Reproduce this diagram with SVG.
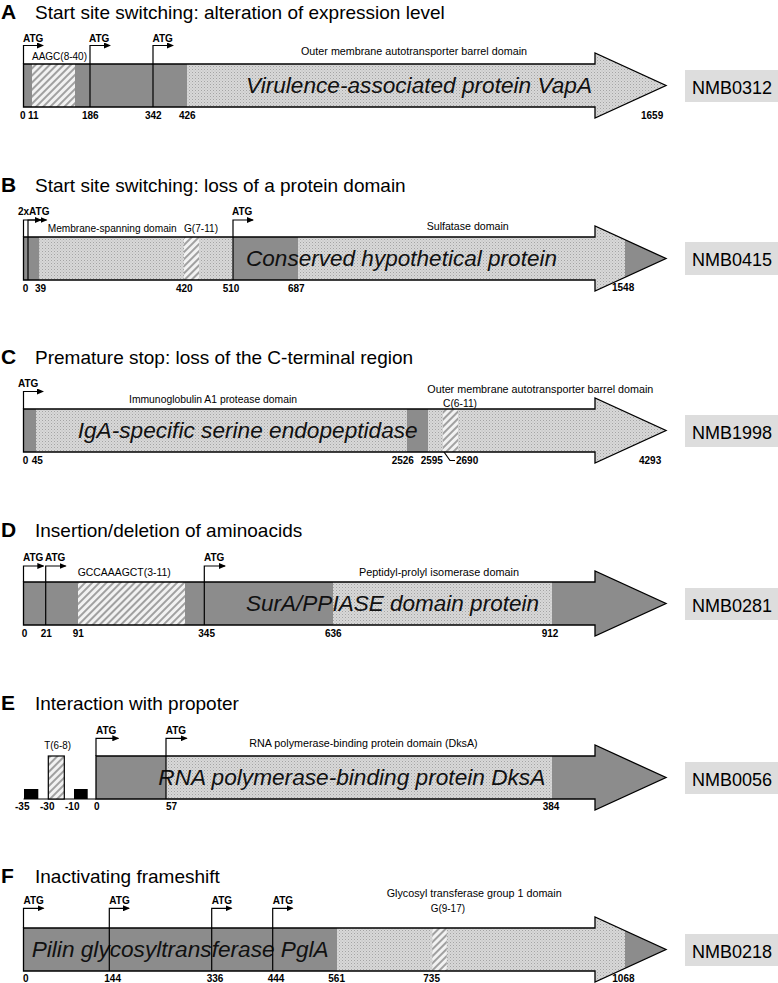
<svg xmlns="http://www.w3.org/2000/svg" width="778" height="983" viewBox="0 0 778 983">
<style>
.ttl{font-family:"Liberation Sans",Arial,sans-serif;font-size:19px;fill:#000}
.let{font-family:"Liberation Sans",Arial,sans-serif;font-size:21px;font-weight:bold;fill:#000}
.lab{font-family:"Liberation Sans",Arial,sans-serif;font-size:10.5px;fill:#000}
.atg{font-family:"Liberation Sans",Arial,sans-serif;font-size:10px;font-weight:bold;fill:#000}
.num{font-family:"Liberation Sans",Arial,sans-serif;font-size:10px;font-weight:bold;fill:#000}
.big{font-family:"Liberation Sans",Arial,sans-serif;font-size:22px;font-style:italic;fill:#111}
.nmb{font-family:"Liberation Sans",Arial,sans-serif;font-size:18px;fill:#000}
.box{fill:#dddddd}
.dk{fill:#8c8c8c}
.st{fill:url(#stip)}
.ht{fill:url(#hatch)}
.outline{fill:none;stroke:#000;stroke-width:1.3}
.vl{stroke:#000;stroke-width:1.2;fill:none}
.arr{stroke:#000;stroke-width:1.2;fill:none;marker-end:url(#ah)}
</style>
<defs>
<pattern id="stip" width="3" height="3" patternUnits="userSpaceOnUse"><rect width="3" height="3" fill="#d8d8d8"/><rect width="1" height="1" fill="#a4a4a4"/><rect x="1.5" y="1.5" width="1" height="1" fill="#b8b8b8"/></pattern>
<pattern id="hatch" width="5" height="5" patternUnits="userSpaceOnUse" patternTransform="rotate(45)"><rect width="5" height="5" fill="#f2f2f2"/><line x1="1" y1="0" x2="1" y2="5" stroke="#8c8c8c" stroke-width="1.6"/></pattern>
<clipPath id="cA"><path d="M23.5,64 H595 V53 L666,85.5 L595,118 V107 H23.5 Z"/></clipPath>
<clipPath id="cE"><path d="M96,64 H595 V53 L666,85.5 L595,118 V107 H96 Z"/></clipPath>
<marker id="ah" markerWidth="7" markerHeight="6" refX="6" refY="3" orient="auto" markerUnits="userSpaceOnUse"><path d="M0,0 L7,3 L0,6 Z" fill="#000"/></marker>
</defs>

<!-- Panel A -->
<g id="panelA">
<text class="let" x="1" y="18.5">A</text>
<text class="ttl" x="35" y="18.5">Start site switching: alteration of expression level</text>
<g id="geneA">
<g clip-path="url(#cA)">
<rect class="dk" x="23.5" y="50" width="164" height="70"/>
<rect class="ht" x="32" y="64" width="43" height="43"/>
<rect class="st" x="187" y="50" width="480" height="70"/>
</g>
<path class="outline" d="M23.5,64 H595 V53 L666,85.5 L595,118 V107 H23.5 Z"/>
<text class="big" x="246" y="93" textLength="346" lengthAdjust="spacingAndGlyphs">Virulence-associated protein VapA</text>
</g>
<g id="labelsA">
<text class="atg" x="23" y="42">ATG</text>
<text class="atg" x="89" y="42">ATG</text>
<text class="atg" x="152.5" y="42">ATG</text>
<text class="lab" x="32" y="60" textLength="55" lengthAdjust="spacingAndGlyphs">AAGC(8-40)</text>
<text class="lab" x="301" y="55" textLength="226" lengthAdjust="spacingAndGlyphs">Outer membrane autotransporter barrel domain</text>
<text class="num" x="20" y="118.5">0</text>
<text class="num" x="28" y="118.5">11</text>
<text class="num" x="82" y="118.5">186</text>
<text class="num" x="145" y="118.5">342</text>
<text class="num" x="179" y="118.5">426</text>
<text class="num" x="641" y="118.5">1659</text>
</g>
<g id="idA"><rect class="box" x="685" y="70" width="93" height="32"/><text class="nmb" x="692" y="93.5">NMB0312</text></g>
</g>

<!-- Panel B -->
<g id="panelB" transform="translate(0,173)">
<text class="let" x="1" y="18.5">B</text>
<text class="ttl" x="35" y="18.5">Start site switching: loss of a protein domain</text>
<g id="geneB">
<g clip-path="url(#cA)">
<rect class="dk" x="23.5" y="50" width="16" height="70"/>
<rect class="st" x="39.5" y="50" width="145" height="70"/>
<rect class="ht" x="184" y="64" width="15" height="43"/>
<rect class="st" x="199" y="50" width="34" height="70"/>
<rect class="dk" x="233" y="50" width="65" height="70"/>
<rect class="st" x="298" y="50" width="327" height="70"/>
<rect class="dk" x="625" y="50" width="45" height="70"/>
</g>
<path class="outline" d="M23.5,64 H595 V53 L666,85.5 L595,118 V107 H23.5 Z"/>
<text class="big" x="246" y="93" textLength="311" lengthAdjust="spacingAndGlyphs">Conserved hypothetical protein</text>
</g>
<g id="labelsB">
<text class="atg" x="18" y="42">2xATG</text>
<text class="atg" x="232" y="42">ATG</text>
<text class="lab" x="47.7" y="58.7" textLength="129" lengthAdjust="spacingAndGlyphs">Membrane-spanning domain</text>
<text class="lab" x="184" y="58.7" textLength="34" lengthAdjust="spacingAndGlyphs">G(7-11)</text>
<text class="lab" x="426.7" y="57" textLength="82" lengthAdjust="spacingAndGlyphs">Sulfatase domain</text>
<text class="num" x="22.7" y="118.5">0</text>
<text class="num" x="35" y="118.5">39</text>
<text class="num" x="176" y="118.5">420</text>
<text class="num" x="222.7" y="118.5">510</text>
<text class="num" x="288" y="118.5">687</text>
<text class="num" x="612" y="118">1548</text>
</g>
<g id="idB"><rect class="box" x="685" y="69" width="93" height="33"/><text class="nmb" x="692" y="93">NMB0415</text></g>
</g>

<!-- Panel C -->
<g id="panelC" transform="translate(0,345)">
<text class="let" x="1" y="19">C</text>
<text class="ttl" x="35" y="19">Premature stop: loss of the C-terminal region</text>
<g id="geneC">
<g clip-path="url(#cA)">
<rect class="dk" x="23.5" y="50" width="12.5" height="70"/>
<rect class="st" x="36" y="50" width="371" height="70"/>
<rect class="dk" x="407" y="50" width="21.3" height="70"/>
<rect class="st" x="428.3" y="50" width="240" height="70"/>
<rect class="ht" x="443" y="64" width="15" height="43"/>
</g>
<path class="outline" d="M23.5,64 H595 V53 L666,85.5 L595,118 V107 H23.5 Z"/>
<text class="big" x="77.7" y="93.3" textLength="340" lengthAdjust="spacingAndGlyphs">IgA-specific serine endopeptidase</text>
</g>
<g id="labelsC">
<text class="atg" x="18" y="42">ATG</text>
<text class="lab" x="129" y="58.3" textLength="168" lengthAdjust="spacingAndGlyphs">Immunoglobulin A1 protease domain</text>
<text class="lab" x="427.3" y="48.3" textLength="226" lengthAdjust="spacingAndGlyphs">Outer membrane autotransporter barrel domain</text>
<text class="lab" x="443" y="61.7" textLength="34" lengthAdjust="spacingAndGlyphs">C(6-11)</text>
<text class="num" x="22.7" y="119">0</text>
<text class="num" x="31.7" y="119">45</text>
<text class="num" x="391.7" y="119">2526</text>
<text class="num" x="420.7" y="119">2595</text>
<text class="num" x="456" y="119">2690</text>
<text class="num" x="639" y="119">4293</text>
</g>
<g id="idC"><rect class="box" x="685" y="70" width="93" height="32"/><text class="nmb" x="692" y="93.5">NMB1998</text></g>
</g>

<!-- Panel D -->
<g id="panelD" transform="translate(0,518)">
<text class="let" x="1" y="19">D</text>
<text class="ttl" x="35" y="19">Insertion/deletion of aminoacids</text>
<g id="geneD">
<g clip-path="url(#cA)">
<rect class="dk" x="23.5" y="50" width="310" height="70"/>
<rect class="ht" x="78" y="64" width="107" height="43"/>
<rect class="st" x="333" y="50" width="219" height="70"/>
<rect class="dk" x="552" y="50" width="118" height="70"/>
</g>
<path class="outline" d="M23.5,64 H595 V53 L666,85.5 L595,118 V107 H23.5 Z"/>
<text class="big" x="246" y="93" textLength="293" lengthAdjust="spacingAndGlyphs">SurA/PPIASE domain protein</text>
</g>
<g id="labelsD">
<text class="atg" x="23" y="42.7">ATG</text>
<text class="atg" x="45" y="42.7">ATG</text>
<text class="atg" x="204" y="42.7">ATG</text>
<text class="lab" x="77.7" y="58" textLength="93" lengthAdjust="spacingAndGlyphs">GCCAAAGCT(3-11)</text>
<text class="lab" x="359" y="57.5" textLength="160" lengthAdjust="spacingAndGlyphs">Peptidyl-prolyl isomerase domain</text>
<text class="num" x="21.7" y="119.3">0</text>
<text class="num" x="40.7" y="119.3">21</text>
<text class="num" x="72.7" y="119.3">91</text>
<text class="num" x="198.3" y="119.3">345</text>
<text class="num" x="325" y="119.3">636</text>
<text class="num" x="541.7" y="119.3">912</text>
</g>
<g id="idD"><rect class="box" x="685" y="70" width="93" height="32"/><text class="nmb" x="692" y="93.5">NMB0281</text></g>
</g>

<!-- Panel E -->
<g id="panelE" transform="translate(0,692)">
<text class="let" x="1" y="18">E</text>
<text class="ttl" x="35" y="18">Interaction with propoter</text>
<g id="promoterE">
<line class="vl" x1="23.5" y1="107" x2="96" y2="107"/>
<rect x="24" y="97" width="14.3" height="10" fill="#000"/>
<rect class="ht" x="48.3" y="64" width="16" height="43" stroke="#000" stroke-width="1.2"/>
<rect x="74" y="97" width="13.7" height="10" fill="#000"/>
</g>
<g id="geneE">
<g clip-path="url(#cE)">
<rect class="dk" x="96" y="50" width="70" height="70"/>
<rect class="st" x="166" y="50" width="386" height="70"/>
<rect class="dk" x="552" y="50" width="118" height="70"/>
</g>
<path class="outline" d="M96,64 H595 V53 L666,85.5 L595,118 V107 H96 Z"/>
<text class="big" x="158.3" y="93" textLength="387" lengthAdjust="spacingAndGlyphs">RNA polymerase-binding protein DksA</text>
</g>
<g id="labelsE">
<text class="atg" x="96" y="42">ATG</text>
<text class="atg" x="165.7" y="42">ATG</text>
<text class="lab" x="44.3" y="57.3" textLength="26.7" lengthAdjust="spacingAndGlyphs">T(6-8)</text>
<text class="lab" x="249.3" y="54.7" textLength="228.4" lengthAdjust="spacingAndGlyphs">RNA polymerase-binding protein domain (DksA)</text>
<text class="num" x="15" y="117.5">-35</text>
<text class="num" x="40" y="117.5">-30</text>
<text class="num" x="65" y="117.5">-10</text>
<text class="num" x="94" y="117.5">0</text>
<text class="num" x="166" y="117.5">57</text>
<text class="num" x="542.7" y="117.5">384</text>
</g>
<g id="idE"><rect class="box" x="685" y="70" width="93" height="32"/><text class="nmb" x="692" y="93.5">NMB0056</text></g>
</g>

<!-- Panel F -->
<g id="panelF" transform="translate(0,864)">
<text class="let" x="1" y="19">F</text>
<text class="ttl" x="35" y="19">Inactivating frameshift</text>
<g id="geneF">
<g clip-path="url(#cA)">
<rect class="dk" x="23.5" y="50" width="313.5" height="70"/>
<rect class="st" x="337" y="50" width="288" height="70"/>
<rect class="ht" x="432.3" y="64" width="14.4" height="43"/>
<rect class="dk" x="625" y="50" width="45" height="70"/>
</g>
<path class="outline" d="M23.5,64 H595 V53 L666,85.5 L595,118 V107 H23.5 Z"/>
<text class="big" x="31.7" y="93" textLength="297" lengthAdjust="spacingAndGlyphs">Pilin glycosyltransferase PglA</text>
</g>
<g id="labelsF">
<text class="atg" x="23.5" y="40">ATG</text>
<text class="atg" x="109.3" y="40">ATG</text>
<text class="atg" x="211.7" y="40">ATG</text>
<text class="atg" x="272.7" y="40">ATG</text>
<text class="lab" x="386.7" y="33" textLength="175" lengthAdjust="spacingAndGlyphs">Glycosyl transferase group 1 domain</text>
<text class="lab" x="430.7" y="47.7" textLength="34.3" lengthAdjust="spacingAndGlyphs">G(9-17)</text>
<text class="num" x="23" y="118.3">0</text>
<text class="num" x="104.3" y="118.3">144</text>
<text class="num" x="206.7" y="118.3">336</text>
<text class="num" x="267.7" y="118.3">444</text>
<text class="num" x="328.3" y="118.3">561</text>
<text class="num" x="423.3" y="118.3">735</text>
<text class="num" x="612.3" y="118.3">1068</text>
</g>
<g id="idF"><rect class="box" x="685" y="70" width="93" height="32"/><text class="nmb" x="692" y="93.5">NMB0218</text></g>
</g>

<!-- Connectors: start-site arrows and leader lines -->
<g id="connectors">
<path class="arr" d="M23.5,64 V45.5 H43"/>
<path class="arr" d="M90,107 V45.5 H110"/>
<path class="arr" d="M153,107 V45.5 H173"/>

<path class="arr" d="M23.5,237 V220 H41"/>
<path class="arr" d="M28,280 V220 H46.5"/>
<path class="arr" d="M233,280 V220 H253"/>

<path class="arr" d="M23.5,409 V391.5 H43"/>
<polyline class="vl" points="444,452 450,460.5 455,460.5"/>

<path class="arr" d="M23.5,582 V566 H43.3"/>
<path class="arr" d="M45.7,625 V566 H65.7"/>
<path class="arr" d="M204.3,625 V566 H225"/>

<path class="arr" d="M96,756 V738.3 H118.3"/>
<path class="arr" d="M166,799 V738.3 H186.7"/>

<path class="arr" d="M23.5,928 V908.3 H43.5"/>
<path class="arr" d="M109.3,971 V908.3 H129"/>
<path class="arr" d="M211.7,971 V908.3 H231.5"/>
<path class="arr" d="M272.7,971 V908.3 H292.5"/>
</g>
</svg>
